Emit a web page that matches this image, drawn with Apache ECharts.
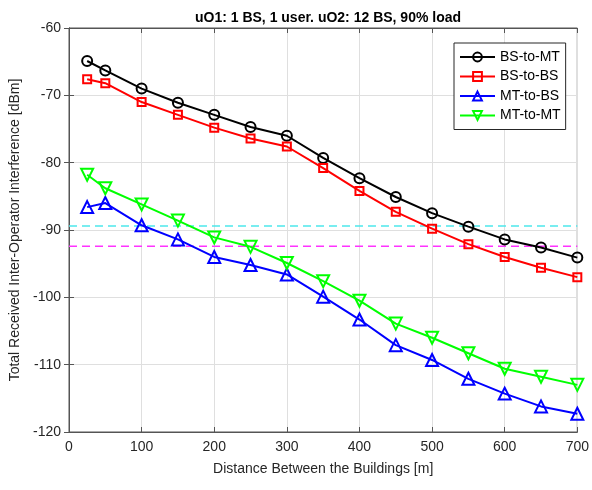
<!DOCTYPE html>
<html>
<head>
<meta charset="utf-8">
<script src="https://cdn.jsdelivr.net/npm/echarts@6/dist/echarts.min.js"></script>
<style>html,body{margin:0;padding:0;background:#fff}#c{width:592px;height:490px}</style>
</head>
<body>
<div id="c"></div>
<script>
var distances = [25, 50, 100, 150, 200, 250, 300, 350, 400, 450, 500, 550, 600, 650, 700];
var bsToMt = [-64.9, -66.3, -69.0, -71.1, -72.9, -74.7, -76.0, -79.3, -82.3, -85.1, -87.5, -89.5, -91.4, -92.6, -94.1];
var bsToBs = [-67.6, -68.2, -71.0, -72.9, -74.8, -76.4, -77.6, -80.8, -84.2, -87.3, -89.8, -92.1, -94.0, -95.6, -97.0];
var mtToBs = [-86.6, -86.0, -89.3, -91.4, -94.0, -95.2, -96.6, -99.9, -103.3, -107.1, -109.3, -112.1, -114.3, -116.2, -117.3];
var mtToMt = [-81.8, -83.8, -86.2, -88.6, -91.1, -92.5, -94.9, -97.6, -100.5, -103.9, -106.0, -108.3, -110.6, -111.8, -113.0];
var cyanLevel = -89.4;
var magentaLevel = -92.4;
var xRange = [0, 700];
var yRange = [-120, -60];

function pairs(ys) { return distances.map(function (d, i) { return [d, ys[i]]; }); }
function flat(v) { return [[xRange[0], v], [xRange[1], v]]; }

var font = 'Liberation Sans, Arial, sans-serif';
var txt = '#262626';
var chart = echarts.init(document.getElementById('c'));

function dataSeries(name, ys, color, symbol, size, rot) {
  return {
    name: name, type: 'line', data: pairs(ys),
    symbol: symbol, symbolSize: size, symbolRotate: rot || 0,
    lineStyle: { color: color, width: 2 },
    itemStyle: { color: 'rgba(255,255,255,0)', borderColor: color, borderWidth: 2 },
    emphasis: { disabled: true }, z: 3
  };
}

chart.setOption({
  animation: false,
  title: {
    text: 'uO1: 1 BS, 1 user. uO2: 12 BS, 90% load',
    left: 323, top: 6, textAlign: 'center',
    textStyle: { fontFamily: font, fontSize: 14, fontWeight: 'bold', color: '#000' }
  },
  grid: { left: 68, right: 13, top: 28, bottom: 58, show: true, borderColor: '#555', borderWidth: 1 },
  legend: {
    orient: 'vertical', left: 454, top: 43,
    data: ['BS-to-MT', 'BS-to-BS', 'MT-to-BS', 'MT-to-MT'],
    itemWidth: 35, itemHeight: 11, itemGap: 5.5,
    padding: [7, 5, 7, 5],
    backgroundColor: '#fff', borderColor: '#262626', borderWidth: 1,
    textStyle: { fontFamily: font, fontSize: 14, color: '#000' }
  },
  xAxis: [{
    type: 'value', min: xRange[0], max: xRange[1], interval: 100,
    name: 'Distance Between the Buildings [m]', nameLocation: 'middle', nameGap: 30,
    nameTextStyle: { fontFamily: font, fontSize: 14, color: txt },
    axisLine: { show: true, lineStyle: { color: '#555' } },
    axisTick: { show: true, inside: true, length: 5, lineStyle: { color: '#555' } },
    axisLabel: { fontFamily: font, fontSize: 14, color: txt, margin: 8 },
    splitLine: { show: true, lineStyle: { color: '#dfdfdf' } }
  }, {
    type: 'value', position: 'top', min: xRange[0], max: xRange[1], interval: 100,
    axisLine: { show: true, lineStyle: { color: '#555' } },
    axisTick: { show: true, inside: true, length: 5, lineStyle: { color: '#555' } },
    axisLabel: { show: false }, splitLine: { show: false }
  }],
  yAxis: [{
    type: 'value', min: yRange[0], max: yRange[1], interval: 10,
    name: 'Total Received Inter-Operator Interference [dBm]', nameLocation: 'middle', nameGap: 47,
    nameTextStyle: { fontFamily: font, fontSize: 14, color: txt },
    axisLine: { show: true, lineStyle: { color: '#555' } },
    axisTick: { show: true, inside: true, length: 5, lineStyle: { color: '#555' } },
    axisLabel: { fontFamily: font, fontSize: 14, color: txt, margin: 8 },
    splitLine: { show: true, lineStyle: { color: '#dfdfdf' } }
  }, {
    type: 'value', position: 'right', min: yRange[0], max: yRange[1], interval: 10,
    axisLine: { show: true, lineStyle: { color: '#555' } },
    axisTick: { show: true, inside: true, length: 5, lineStyle: { color: '#555' } },
    axisLabel: { show: false }, splitLine: { show: false }
  }],
  series: [
    dataSeries('BS-to-MT', bsToMt, '#000000', 'circle', 10),
    dataSeries('BS-to-BS', bsToBs, '#ff0000', 'rect', 8),
    dataSeries('MT-to-BS', mtToBs, '#0000ff', 'triangle', 12),
    dataSeries('MT-to-MT', mtToMt, '#00ff00', 'triangle', 12, 180),
    { name: 'cyan', type: 'line', data: flat(cyanLevel), symbol: 'none',
      lineStyle: { color: '#4de8ec', width: 1.5, type: [8, 5] }, z: 2, emphasis: { disabled: true } },
    { name: 'magenta', type: 'line', data: flat(magentaLevel), symbol: 'none',
      lineStyle: { color: '#ff33ff', width: 1.5, type: [8, 5] }, z: 2, emphasis: { disabled: true } }
  ]
});
</script>
</body>
</html>
